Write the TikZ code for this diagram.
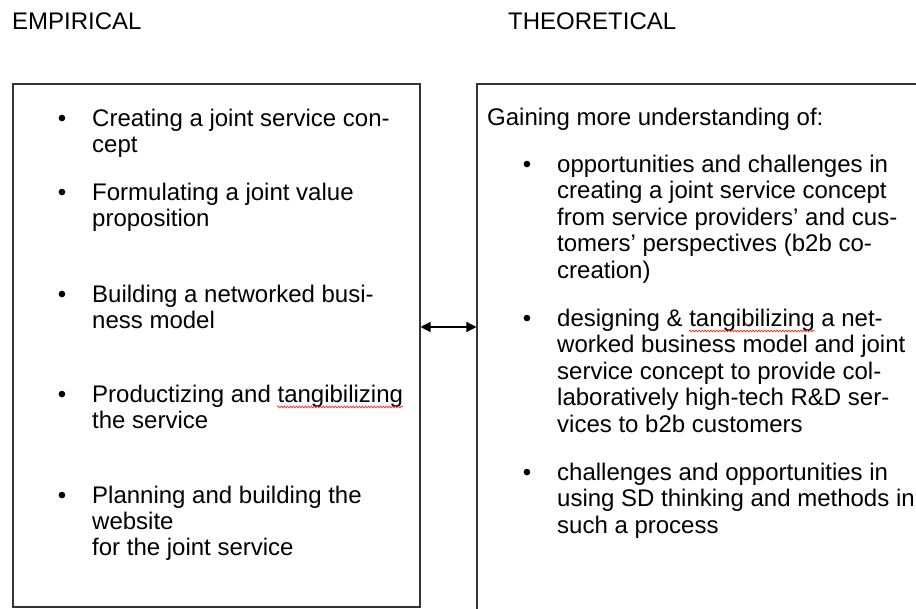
\documentclass[tikz,border=0pt]{standalone}
\usepackage{fontspec}
\setmainfont{Liberation Sans}
\usepackage{xcolor}
\usetikzlibrary{positioning, arrows.meta, calc, decorations.pathmorphing}

\newlength{\sqa}
\newlength{\sqb}
\newlength{\sqw}

\begin{document}
% widths for the spell-check underlines
\settowidth{\sqa}{\fontsize{24}{26}\selectfont Productizing and }%
\settowidth{\sqb}{\fontsize{24}{26}\selectfont designing \& }%
\settowidth{\sqw}{\fontsize{24}{26}\selectfont tangibilizing}%
\begin{tikzpicture}[
	x=1pt, y=-1pt,
	panel/.style={rectangle, draw=black!80, line width=1.1pt, inner sep=0pt},
	heading/.style={anchor=base west, inner sep=0pt, font=\fontsize{24}{26}\selectfont},
	item/.style={anchor=base west, inner sep=0pt, align=left, font=\fontsize{24}{26}\selectfont},
	ritem/.style={item, font=\fontsize{24}{26.5}\selectfont},
	bul/.style={anchor=base, inner sep=0pt, font=\fontsize{24}{26}\selectfont},
	squiggle/.style={draw=red!85, line width=0.7pt, decorate, decoration={snake, amplitude=0.9pt, segment length=3pt}},
	link/.style={draw=black, line width=1.4pt, {Triangle[length=10pt,width=10pt]}-{Triangle[length=10pt,width=10pt]}}
	]
	
	\clip (0,0) rectangle (916,608);
	
	\node [heading] (emp_head) at (12,29) {EMPIRICAL};
	\node [heading] (theo_head) at (508,29) {THEORETICAL};
	
	\node [panel, minimum width=407pt, minimum height=523pt] (emp) at (216.5,345.5) {};
	\node [panel, minimum width=500pt, minimum height=600pt] (theo) at (727,384) {};
	
	\coordinate (arr) at (0,327);
	\draw [link] (emp.east |- arr) -- (theo.west |- arr);
	
	% empirical (placed at the baseline of the last line)
	\node [item] (e1) at (92,152) {Creating a joint service con-\\cept};
	\node [item] (e2) at (92,226) {Formulating a joint value\\proposition};
	\node [item] (e3) at (92,328) {Building a networked busi-\\ness model};
	\node [item] (e4) at (92,428) {Productizing and tangibilizing\\the service};
	\node [item] (e5) at (92,555) {Planning and building the\\website\\for the joint service};
	\foreach \n/\k in {e1/1,e2/1,e3/1,e4/1,e5/2}
		\node [bul, xshift=-30pt, yshift=\k*26pt] (b\n) at (\n.base west) {\textbullet};
	
	% theoretical
	\node [item] (t0) at (487,125) {Gaining more understanding of:};
	\node [ritem] (t1) at (557,278) {opportunities and challenges in\\creating a joint service concept\\from service providers’ and cus-\\tomers’ perspectives (b2b co-\\creation)};
	\node [ritem] (t2) at (557,432) {designing \& tangibilizing a net-\\worked business model and joint\\service concept to provide col-\\laboratively high-tech R\&D ser-\\vices to b2b customers};
	\node [ritem] (t3) at (557,533) {challenges and opportunities in\\using SD thinking and methods in\\such a process};
	\foreach \n/\k in {t1/4,t2/4,t3/2}
		\node [bul, xshift=-30pt, yshift=\k*26.5pt] (b\n) at (\n.base west) {\textbullet};
	
	% spell-check underlines
	\draw [squiggle] ($(e4.base west)+(\sqa,21pt)$) -- ++(\sqw,0pt);
	\draw [squiggle] ($(t2.base west)+(\sqb,101pt)$) -- ++(\sqw,0pt);
\end{tikzpicture}
\end{document}
